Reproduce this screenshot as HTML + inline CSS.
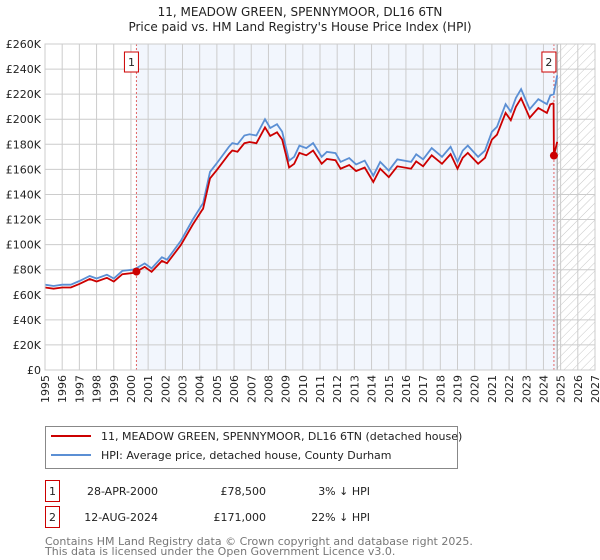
<!DOCTYPE html>
<html><head><meta charset="utf-8"><style>
body{margin:0;background:#fff;font-family:"Liberation Sans","DejaVu Sans",sans-serif}
svg{display:block}
</style></head><body>
<svg id="chart" width="600" height="560" viewBox="0 0 600 560" xmlns="http://www.w3.org/2000/svg" font-family="DejaVu Sans, Liberation Sans, sans-serif">
<defs>
<pattern id="hatch" width="6" height="6" patternUnits="userSpaceOnUse" patternTransform="rotate(45)">
<line x1="0" y1="0" x2="0" y2="6" stroke="#c8c8c8" stroke-width="1"/>
</pattern>
</defs>
<text x="300" y="16" text-anchor="middle" font-size="12" fill="#222">11, MEADOW GREEN, SPENNYMOOR, DL16 6TN</text>
<text x="300" y="31" text-anchor="middle" font-size="12" fill="#222">Price paid vs. HM Land Registry's House Price Index (HPI)</text>
<g id="plot"></g>
<g>
<rect x="45.5" y="426.5" width="412" height="42" fill="#fff" stroke="#888"/>
<line x1="51" y1="436" x2="91" y2="436" stroke="#cc0000" stroke-width="2"/>
<text x="101" y="440" font-size="11" fill="#222">11, MEADOW GREEN, SPENNYMOOR, DL16 6TN (detached house)</text>
<line x1="51" y1="455" x2="91" y2="455" stroke="#5b8fd4" stroke-width="2"/>
<text x="101" y="459" font-size="11" fill="#222">HPI: Average price, detached house, County Durham</text>
</g>
<g font-size="11" fill="#222">
<rect x="45.5" y="480.5" width="14" height="21" fill="#fff" stroke="#cc0000"/>
<text x="52.5" y="495" text-anchor="middle">1</text>
<text x="158" y="495" text-anchor="end">28-APR-2000</text>
<text x="266" y="495" text-anchor="end">£78,500</text>
<text x="370" y="495" text-anchor="end">3% ↓ HPI</text>
<rect x="45.5" y="506.5" width="14" height="21" fill="#fff" stroke="#cc0000"/>
<text x="52.5" y="521" text-anchor="middle">2</text>
<text x="158" y="521" text-anchor="end">12-AUG-2024</text>
<text x="266" y="521" text-anchor="end">£171,000</text>
<text x="370" y="521" text-anchor="end">22% ↓ HPI</text>
</g>
<text x="45" y="545" font-size="11" fill="#777">Contains HM Land Registry data © Crown copyright and database right 2025.</text>
<text x="45" y="555" font-size="11" fill="#777">This data is licensed under the Open Government Licence v3.0.</text>
</svg>
<script>
const hpiYears=[1995.0,1995.5,1996.0,1996.5,1997.0,1997.6,1998.0,1998.6,1999.0,1999.5,2000.1,2000.3,2000.8,2001.2,2001.8,2002.1,2002.9,2003.6,2004.1,2004.2,2004.6,2005.0,2005.7,2005.9,2006.2,2006.6,2006.9,2007.3,2007.8,2008.1,2008.5,2008.8,2009.2,2009.5,2009.8,2010.2,2010.6,2011.1,2011.4,2011.9,2012.2,2012.7,2013.1,2013.6,2014.1,2014.5,2015.0,2015.5,2016.3,2016.6,2017.0,2017.5,2018.1,2018.6,2019.0,2019.3,2019.6,2020.2,2020.6,2021.0,2021.3,2021.6,2021.8,2022.1,2022.4,2022.7,2023.2,2023.7,2024.2,2024.4,2024.6,2024.8];
const hpiValues=[68,67,68,68,71,75,73,76,73,79,80,81,85,81,90,88,103,120,131,133,158,165,178,181,180,187,188,187,200,193,196,190,167,170,179,177,181,170,174,173,166,169,164,167,155,166,159,168,166,172,168,177,170,178,166,175,179,170,175,190,194,205,212,206,217,224,208,216,212,219,220,235];
const saleYears=[2000.32,2024.61];
const salePrices=[78.5,171];
const yTicks=[0,20,40,60,80,100,120,140,160,180,200,220,240,260];
const xTicks=[1995,1996,1997,1998,1999,2000,2001,2002,2003,2004,2005,2006,2007,2008,2009,2010,2011,2012,2013,2014,2015,2016,2017,2018,2019,2020,2021,2022,2023,2024,2025,2026,2027];
const dataEnd=2024.8;

const L=45,R=595,T=44,B=370;
const x=y=>L+(y-1995)/(2027-1995)*(R-L);
const yv=v=>B-v/260*(B-T);
const NS="http://www.w3.org/2000/svg";
const g=document.getElementById('plot');
function mk(tag,attrs,parent){const e=document.createElementNS(NS,tag);for(const k in attrs)e.setAttribute(k,attrs[k]);(parent||g).appendChild(e);return e;}
function hpiAt(t){for(let i=1;i<hpiYears.length;i++){if(t<=hpiYears[i]){const a=hpiYears[i-1],b=hpiYears[i];const f=(t-a)/(b-a);return hpiValues[i-1]+f*(hpiValues[i]-hpiValues[i-1]);}}return hpiValues[hpiValues.length-1];}

let bg=mk('rect',{x:x(saleYears[0]),y:T,width:x(dataEnd)-x(saleYears[0]),height:B-T,fill:'#f2f6fd'});


let ht=mk('rect',{x:x(dataEnd),y:T,width:R-x(dataEnd),height:B-T,fill:'url(#hatch)'});



yTicks.forEach(v=>{
 const l=mk('line',{x1:L,x2:R,y1:yv(v),y2:yv(v),stroke:'#cccccc','stroke-width':1});
 
 
 const t=mk('text',{x:L-4,y:yv(v)+4,'text-anchor':'end','font-size':11,fill:'#222'});
 t.textContent=v===0?'£0':'£'+v+'K';
 
 
});
xTicks.forEach(yr=>{
 const l=mk('line',{x1:x(yr),x2:x(yr),y1:T,y2:B,stroke:'#cccccc','stroke-width':1});
 
 
 const t=mk('text',{x:0,y:0,'text-anchor':'end','font-size':11,fill:'#222',transform:`translate(${x(yr)+4},${B+5}) rotate(-90)`});
 t.textContent=yr;
 
 
});
let dl=mk('line',{x1:x(dataEnd),x2:x(dataEnd),y1:T,y2:B,stroke:'#999','stroke-width':1});



saleYears.forEach((s,i)=>{
 const l=mk('line',{x1:x(s),x2:x(s),y1:T,y2:B,stroke:'#e06666','stroke-width':1,'stroke-dasharray':'2,2'});
 
 
 const bx=mk('rect',{x:x(s)-12,y:T+8,width:14,height:20,fill:'#fff',stroke:'#cc0000'});
 
 
 const t=mk('text',{x:x(s)-5,y:T+22,'text-anchor':'middle','font-size':11,fill:'#222'});
 t.textContent=String(i+1);
 
 
});

let hp=hpiYears.map((t,i)=>x(t).toFixed(1)+','+yv(hpiValues[i]).toFixed(1)).join(' ');
let hl=mk('polyline',{points:hp,fill:'none',stroke:'#5b8fd4','stroke-width':1.8});



const ratios=saleYears.map((s,i)=>salePrices[i]/hpiAt(s));
let pts=[];
hpiYears.forEach((t,i)=>{ if(t<saleYears[1]){pts.push([t,hpiValues[i]*ratios[0]]);} });
pts.push([saleYears[1]-0.02,hpiAt(saleYears[1]-0.02)*ratios[0]]);
pts.push([saleYears[1],salePrices[1]]);
hpiYears.forEach((t,i)=>{if(t>saleYears[1])pts.push([t,hpiValues[i]*ratios[1]]);});
let pl=mk('polyline',{points:pts.map(p=>x(p[0]).toFixed(1)+','+yv(p[1]).toFixed(1)).join(' '),fill:'none',stroke:'#cc0000','stroke-width':1.8});



saleYears.forEach((s,i)=>{
 const c=mk('circle',{cx:x(s),cy:yv(salePrices[i]),r:4,fill:'#cc0000'});
 
 
});
let ax=mk('rect',{x:L,y:T,width:R-L,height:B-T,fill:'none',stroke:'#cccccc'});


</script>
</body></html>
